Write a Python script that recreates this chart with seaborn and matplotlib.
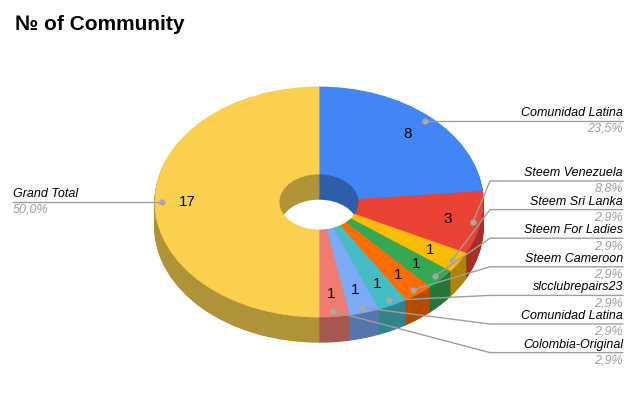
import numpy as np
import matplotlib
matplotlib.use("Agg")
import matplotlib.pyplot as plt
import matplotlib.colors as mcolors
import seaborn as sns

# data
names = ["Comunidad Latina", "Steem Venezuela", "Steem Sri Lanka", "Steem For Ladies",
         "Steem Cameroon", "slcclubrepairs23", "Comunidad Latina", "Colombia-Original",
         "Grand Total"]
values = [8, 3, 1, 1, 1, 1, 1, 1, 17]
colors = ["#4285F4", "#EA4335", "#FBBC04", "#34A853", "#FF6D01", "#46BDC6",
          "#7BAAF7", "#F07B72", "#FCD04F"]

sns.set_style("white")
plt.rcParams["font.family"] = ["Liberation Sans", "DejaVu Sans"]
plt.rcParams["text.color"] = "black"

W, H = 640, 397
CX, CY, RX, RY = 319, 202, 164, 115   # pixel geometry of the top ellipse
DEPTH = 25 / RY
HOLE = 40 / RX


def X(px):
    return (px - CX) / RX


def Y(py):
    return (CY - py) / RY


total = sum(values)
dark = [tuple(c * 0.7 for c in mcolors.to_rgb(col)) for col in colors]

fig = plt.figure(figsize=(W / 100, H / 100), dpi=100)
ax = fig.add_axes([0, 0, 1, 1])

# side walls: stacked darker layers
n_layers = 26
for d in np.linspace(-DEPTH, 0, n_layers, endpoint=False):
    wedges, _ = ax.pie(values, colors=dark, startangle=90, counterclock=False, radius=1,
                       center=(0, d), wedgeprops=dict(width=1 - HOLE, linewidth=1))
    for w in wedges:
        w.set_edgecolor(w.get_facecolor())

# top face with value labels
wedges, _, autotexts = ax.pie(values, colors=colors, startangle=90, counterclock=False, radius=1,
                              autopct=lambda p: f"{round(p * total / 100)}", pctdistance=0.8,
                              textprops=dict(fontsize=11, color="black"),
                              wedgeprops=dict(width=1 - HOLE, linewidth=0.6))
for w in wedges:
    w.set_edgecolor(w.get_facecolor())

ax.set_aspect("auto")
ax.set_xlim(X(0), X(W))
ax.set_ylim(Y(H), Y(0))
ax.axis("off")

# leader lines and outside labels
line_c = "#9E9E9E"
cum = 0
right_k = 0
for name, v in zip(names, values):
    ang = np.deg2rad(90 - 360 * (cum + v / 2) / total)
    cum += v
    dx, dy = 0.955 * np.cos(ang), 0.955 * np.sin(ang)
    pct = f"{v / total * 100:.1f}".replace(".", ",") + "%"
    ax.plot(dx, dy, "o", color="#A8A8A8", ms=3.5, zorder=5)
    if dx < 0:
        ly = dy
        ax.plot([dx, X(13)], [ly, ly], color=line_c, lw=1, zorder=4)
        ax.text(X(13), ly + 2 / RY, name, ha="left", va="bottom", fontsize=9, style="italic")
        ax.text(X(13), ly - 2 / RY, pct, ha="left", va="top", fontsize=9, style="italic", color="#9E9E9E")
        continue
    if right_k == 0:
        ly = dy
        ax.plot([dx, X(623)], [ly, ly], color=line_c, lw=1, zorder=4)
    else:
        ly = Y(181 + 28.6 * (right_k - 1))
        ax.plot([dx, X(490), X(623)], [dy, ly, ly], color=line_c, lw=1, zorder=4)
    right_k += 1
    ax.text(X(623), ly + 2 / RY, name, ha="right", va="bottom", fontsize=9, style="italic")
    ax.text(X(623), ly - 2 / RY, pct, ha="right", va="top", fontsize=9, style="italic", color="#9E9E9E")

fig.text(15 / W, 1 - 25 / H, "№ of Community", fontsize=15, weight="bold", va="center", color="black")

fig.savefig("out.png", dpi=100)
